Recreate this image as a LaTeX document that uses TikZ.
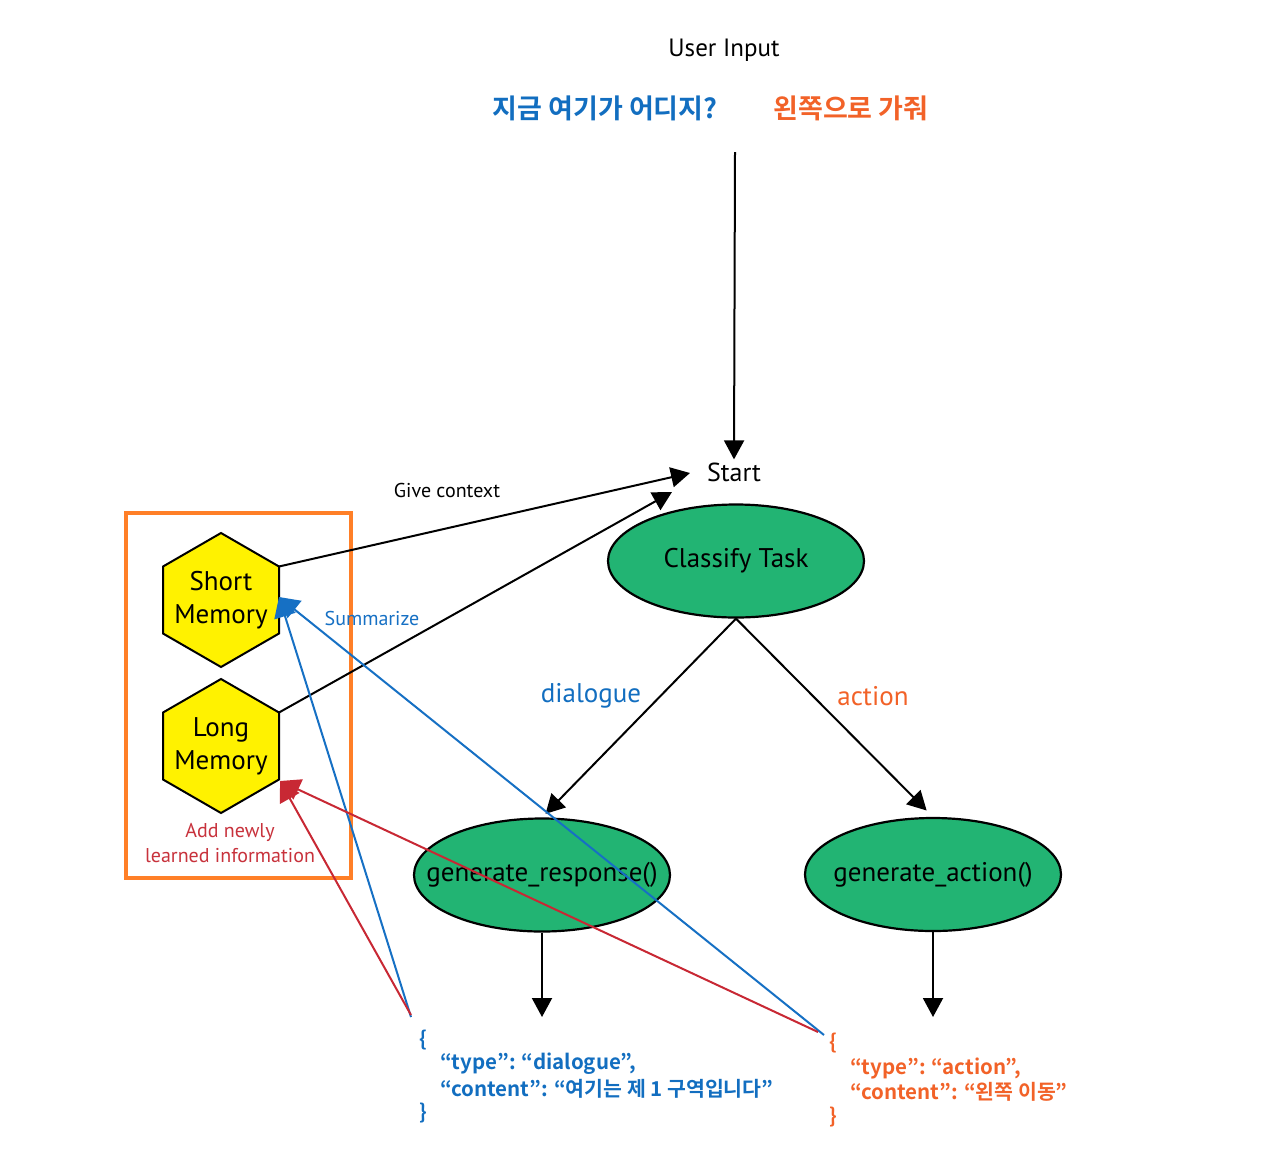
\documentclass[tikz,border=0pt]{standalone}
\usepackage{fontspec}
\setmainfont{PT Sans}
\newfontfamily\kr{Noto Sans CJK KR}[BoldFont={Noto Sans CJK KR Bold}]
\usetikzlibrary{arrows.meta,shapes.geometric}
\definecolor{blueT}{RGB}{18,110,192}
\definecolor{orangeT}{RGB}{242,98,40}
\definecolor{greenN}{RGB}{34,180,115}
\definecolor{orangeR}{RGB}{255,127,39}
\definecolor{redL}{RGB}{200,40,52}
\definecolor{redT}{RGB}{200,50,60}
\definecolor{blueL}{RGB}{22,112,196}
\tikzset{
  txt/.style={inner sep=0pt, font=\fontsize{#1}{#1}\selectfont},
  task/.style={ellipse, draw=black, line width=2.2pt, fill=greenN, minimum width=256pt, minimum height=113pt, inner sep=0pt,
    label={[inner sep=0pt, font=\fontsize{27}{27}\selectfont]center:#1}},
  hexa/.style={draw=black, line width=2pt, fill=yellow},
  blk/.style={draw=black, line width=2pt, -{Triangle[length=19pt,width=20pt]}},
  bl/.style={draw=blueL, line width=2pt, -{Triangle[length=20pt,width=22pt]}},
  rd/.style={draw=redL, line width=2pt, -{Triangle[length=20pt,width=22pt]}},
  json/.style={inner sep=0pt, anchor=west, font=\kr\bfseries\fontsize{20.5}{20.5}\selectfont},
}
\begin{document}
\begin{tikzpicture}[x=1pt,y=-1pt]
\useasboundingbox (0,0) rectangle (1287,1173);
\fill[white] (0,0) rectangle (1287,1173);

% top texts
\node[txt=25] (ui) at (724,50) {User Input};
\node[txt=27, text=blueT, font=\kr\bfseries\fontsize{27}{27}\selectfont] (q1) at (605,108) {지금 여기가 어디지?};
\node[txt=27, text=orangeT, font=\kr\bfseries\fontsize{27}{27}\selectfont] (q2) at (851,108) {왼쪽으로 가줘};
\coordinate (uin) at (735,152);
\node[txt=26, inner sep=3pt] (start) at (734,472) {Start};

% memory box
\draw[orangeR, line width=4pt] (126,513) rectangle (351,878);

% hexagons
\draw[hexa] (221,533) -- (279,566.5) -- (279,633.5) -- (221,667) -- (163,633.5) -- (163,566.5) -- cycle;
\node[txt=27, align=center] (sm) at (221,600) {Short\\[6pt]Memory};
\draw[hexa] (221,679) -- (279,712.5) -- (279,779.5) -- (221,813) -- (163,779.5) -- (163,712.5) -- cycle;
\node[txt=27, align=center] (lm) at (221,746) {Long\\[6pt]Memory};
\coordinate (smur) at (279,566.5);
\coordinate (lmur) at (279,712.5);
\coordinate (smtip) at (279,597);
\coordinate (lmtip) at (280,781);
\node[txt=20, text=redT, align=center] (add) at (230,843) {Add newly\\[5pt]learned information};

% task ellipses
\node[task={Classify Task}] (cls) at (736,561) {};
\node[task={generate\_response()}] (gr) at (542,875) {};
\node[task={generate\_action()}] (ga) at (933,874.5) {};

% outputs
\coordinate (gro) at (542,1017);
\coordinate (gao) at (933,1017);
\coordinate (st1) at (690,473);
\coordinate (st2) at (672,492);

% labels
\node[txt=20] (gc) at (447,490) {Give context};
\node[txt=27, text=blueT] (dl) at (591,696) {dialogue};
\node[txt=27, text=orangeT] (ac) at (873,696) {action};
\node[txt=20, text=blueL] (sum) at (372,618) {Summarize};

% black connectors
\draw[blk] (uin) -- (start.north);
\draw[blk] (smur) -- (st1);
\draw[blk] (lmur) -- (st2);
\draw[blk, shorten >=5pt] (cls.south) -- (gr.north);
\draw[blk, shorten >=9pt] (cls.south) -- (ga.north);
\draw[blk] (gr.south) -- (gro);
\draw[blk] (ga.south) -- (gao);

% JSON outputs
\node[json, text=blueT] (jb1) at (419,1040) {\{};
\node[json, text=blueT] (jb2) at (440,1064) {“type”: “dialogue”,};
\node[json, text=blueT] (jb3) at (440,1089) {“content”: “여기는 제 1 구역입니다”};
\node[json, text=blueT] (jb4) at (419,1113) {\}};
\node[json, text=orangeT] (jo1) at (829,1043) {\{};
\node[json, text=orangeT] (jo2) at (850,1068) {“type”: “action”,};
\node[json, text=orangeT] (jo3) at (850,1092) {“content”: “왼쪽 이동”};
\node[json, text=orangeT] (jo4) at (829,1117) {\}};

\coordinate (jbb) at (411,1017);
\coordinate (jbr) at (411,1015);
\coordinate (job) at (824,1035);
\coordinate (jor) at (818,1032);

% memory update lines
\draw[bl] (jbb) -- (smtip);
\draw[bl] (job) -- (smtip);
\draw[rd] (jbr) -- (lmtip);
\draw[rd] (jor) -- (lmtip);
\end{tikzpicture}
\end{document}
